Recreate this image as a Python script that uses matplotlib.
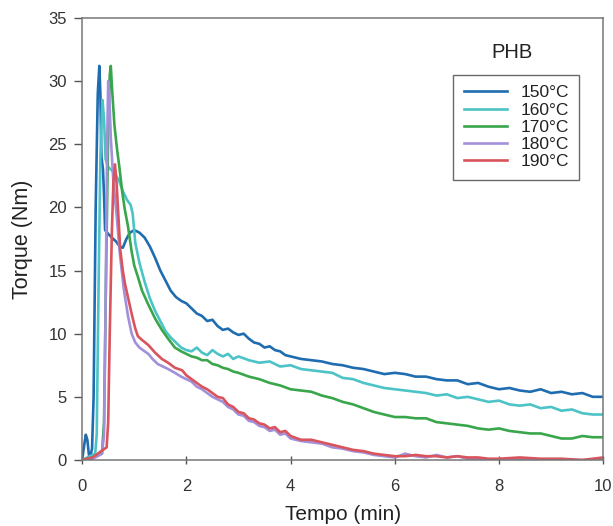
import matplotlib
matplotlib.use("Agg")
import matplotlib.pyplot as plt

plt.rcParams['font.family'] = ['Liberation Sans', 'DejaVu Sans']

labels = ["150°C", "160°C", "170°C", "180°C", "190°C"]
colors = ["#1f6db0", "#4cc3c6", "#3aa64c", "#a390db", "#d9545c"]

x150 = [0, 0.04, 0.07, 0.1, 0.13, 0.16, 0.19, 0.22, 0.26, 0.3, 0.33, 0.35, 0.37, 0.4, 0.42, 0.44, 0.5, 0.57, 0.65, 0.72, 0.78, 0.85, 0.92, 1.0, 1.1, 1.2, 1.3, 1.4, 1.5, 1.6, 1.7, 1.8, 1.9, 2.0, 2.1, 2.2, 2.3, 2.4, 2.5, 2.6, 2.7, 2.8, 2.9, 3.0, 3.1, 3.2, 3.3, 3.4, 3.5, 3.6, 3.7, 3.8, 3.9, 4.0, 4.2, 4.4, 4.6, 4.8, 5.0, 5.2, 5.4, 5.6, 5.8, 6.0, 6.2, 6.4, 6.6, 6.8, 7.0, 7.2, 7.4, 7.6, 7.8, 8.0, 8.2, 8.4, 8.6, 8.8, 9.0, 9.2, 9.4, 9.6, 9.8, 10.0]
y150 = [0, 1.2, 2.0, 1.6, 0.4, 0.3, 0.9, 5, 20, 29, 31.2, 29, 24, 23, 21, 18.2, 17.9, 17.6, 17.3, 16.9, 16.8, 17.5, 18.0, 18.2, 18.0, 17.6, 16.9, 16.0, 15.0, 14.2, 13.4, 12.9, 12.6, 12.4, 12.0, 11.6, 11.4, 11.0, 11.1, 10.6, 10.3, 10.4, 10.1, 9.9, 10.0, 9.6, 9.3, 9.2, 8.9, 9.0, 8.7, 8.6, 8.3, 8.2, 8.0, 7.9, 7.8, 7.6, 7.5, 7.3, 7.2, 7.0, 6.8, 6.9, 6.8, 6.6, 6.6, 6.4, 6.3, 6.3, 6.0, 6.1, 5.8, 5.6, 5.7, 5.5, 5.4, 5.6, 5.3, 5.4, 5.2, 5.3, 5.0, 5.0]

x160 = [0, 0.1, 0.2, 0.25, 0.28, 0.31, 0.35, 0.39, 0.42, 0.45, 0.5, 0.6, 0.7, 0.78, 0.86, 0.93, 0.97, 1.02, 1.1, 1.2, 1.3, 1.4, 1.5, 1.6, 1.7, 1.8, 1.9, 2.0, 2.1, 2.2, 2.3, 2.4, 2.5, 2.6, 2.7, 2.8, 2.9, 3.0, 3.2, 3.4, 3.6, 3.8, 4.0, 4.2, 4.4, 4.6, 4.8, 5.0, 5.2, 5.4, 5.6, 5.8, 6.0, 6.2, 6.4, 6.6, 6.8, 7.0, 7.2, 7.4, 7.6, 7.8, 8.0, 8.2, 8.4, 8.6, 8.8, 9.0, 9.2, 9.4, 9.6, 9.8, 10.0]
y160 = [0, 0.2, 0.4, 0.5, 2, 12, 24, 28.5, 27, 23.8, 23.2, 22.8, 22.2, 21.3, 20.6, 20.2, 19.5, 17.2, 15.6, 14.1, 12.8, 11.8, 11.0, 10.2, 9.7, 9.3, 8.9, 8.7, 8.6, 8.9, 8.5, 8.3, 8.7, 8.4, 8.2, 8.4, 8.0, 8.2, 7.9, 7.7, 7.8, 7.4, 7.5, 7.2, 7.1, 7.0, 6.9, 6.5, 6.4, 6.1, 5.9, 5.7, 5.6, 5.5, 5.4, 5.3, 5.1, 5.2, 4.9, 5.0, 4.8, 4.6, 4.7, 4.4, 4.3, 4.4, 4.1, 4.2, 3.9, 4.0, 3.7, 3.6, 3.6]

x170 = [0, 0.1, 0.2, 0.3, 0.38, 0.42, 0.46, 0.5, 0.53, 0.55, 0.58, 0.62, 0.67, 0.72, 0.77, 0.82, 0.88, 0.95, 1.0, 1.07, 1.15, 1.27, 1.4, 1.53, 1.65, 1.78, 1.9, 2.0, 2.1, 2.2, 2.3, 2.4, 2.5, 2.6, 2.7, 2.8, 2.9, 3.0, 3.2, 3.4, 3.6, 3.8, 4.0, 4.2, 4.4, 4.6, 4.8, 5.0, 5.2, 5.4, 5.6, 5.8, 6.0, 6.2, 6.4, 6.6, 6.8, 7.0, 7.2, 7.4, 7.6, 7.8, 8.0, 8.2, 8.4, 8.6, 8.8, 9.0, 9.2, 9.4, 9.6, 9.8, 10.0]
y170 = [0, 0.1, 0.2, 0.4, 0.5, 3, 15, 26, 30.5, 31.2, 29, 26.5, 24.6, 23, 21.2, 19.8, 18.5, 16.5, 15.4, 14.5, 13.4, 12.3, 11.2, 10.3, 9.6, 8.9, 8.6, 8.4, 8.2, 8.1, 7.9, 7.9, 7.6, 7.5, 7.3, 7.2, 7.0, 6.9, 6.6, 6.4, 6.1, 5.9, 5.6, 5.5, 5.4, 5.1, 4.9, 4.6, 4.4, 4.1, 3.8, 3.6, 3.4, 3.4, 3.3, 3.3, 3.0, 2.9, 2.8, 2.7, 2.5, 2.4, 2.5, 2.3, 2.2, 2.1, 2.1, 1.9, 1.7, 1.7, 1.9, 1.8, 1.8]

x180 = [0, 0.1, 0.2, 0.3, 0.38, 0.42, 0.45, 0.48, 0.5, 0.52, 0.55, 0.6, 0.66, 0.72, 0.8, 0.88, 0.95, 1.02, 1.1, 1.2, 1.27, 1.35, 1.45, 1.55, 1.65, 1.78, 1.9, 2.0, 2.1, 2.2, 2.3, 2.4, 2.5, 2.6, 2.7, 2.8, 2.9, 3.0, 3.1, 3.2, 3.3, 3.4, 3.5, 3.6, 3.7, 3.8, 3.9, 4.0, 4.2, 4.4, 4.6, 4.8, 5.0, 5.2, 5.4, 5.6, 5.8, 6.0, 6.2, 6.4, 6.6, 6.8, 7.0, 7.2, 7.4, 7.6, 8.0, 8.5, 9.0, 9.5, 10.0]
y180 = [0, 0.0, 0.1, 0.3, 0.5, 2, 12, 25, 30.0, 29, 25.5, 22, 19.5, 16.5, 13.5, 11.4, 10.0, 9.3, 8.9, 8.6, 8.4, 8.0, 7.6, 7.4, 7.2, 6.9, 6.6, 6.4, 6.2, 5.8, 5.6, 5.3, 5.0, 4.8, 4.6, 4.2, 4.0, 3.6, 3.5, 3.1, 3.0, 2.7, 2.6, 2.3, 2.4, 2.0, 2.1, 1.7, 1.5, 1.4, 1.3, 1.0, 0.9, 0.7, 0.6, 0.4, 0.3, 0.2, 0.5, 0.3, 0.2, 0.4, 0.2, 0.3, 0.1, 0.1, 0.0, 0.1, 0.0, 0.0, 0.0]

x190 = [0, 0.1, 0.2, 0.3, 0.4, 0.47, 0.5, 0.53, 0.57, 0.6, 0.63, 0.66, 0.7, 0.73, 0.78, 0.82, 0.9, 0.96, 1.02, 1.07, 1.15, 1.27, 1.4, 1.53, 1.65, 1.78, 1.92, 2.0, 2.1, 2.2, 2.3, 2.4, 2.5, 2.6, 2.7, 2.8, 2.9, 3.0, 3.1, 3.2, 3.3, 3.4, 3.5, 3.6, 3.7, 3.8, 3.9, 4.0, 4.2, 4.4, 4.6, 4.8, 5.0, 5.2, 5.4, 5.6, 5.8, 6.0, 6.2, 6.4, 6.6, 6.8, 7.0, 7.2, 7.4, 7.6, 7.8, 8.0, 8.4, 8.8, 9.2, 9.6, 10.0]
y190 = [0, 0.1, 0.2, 0.5, 0.8, 1.0, 3, 10, 18, 22, 23.4, 22, 19, 16.7, 15.0, 14.0, 12.5, 11.4, 10.4, 9.8, 9.5, 9.1, 8.5, 8.0, 7.7, 7.3, 7.1, 6.7, 6.4, 6.1, 5.8, 5.6, 5.3, 5.0, 4.9, 4.4, 4.2, 3.8, 3.7, 3.3, 3.2, 2.9, 2.8, 2.5, 2.6, 2.2, 2.3, 1.9, 1.6, 1.6, 1.4, 1.2, 1.0, 0.8, 0.7, 0.5, 0.4, 0.3, 0.3, 0.4, 0.3, 0.3, 0.2, 0.3, 0.2, 0.2, 0.1, 0.1, 0.2, 0.1, 0.1, 0.0, 0.2]

series_x = [x150, x160, x170, x180, x190]
series_y = [y150, y160, y170, y180, y190]

x_ticks = [0, 2, 4, 6, 8, 10]
y_ticks = [0, 5, 10, 15, 20, 25, 30, 35]

fig = plt.figure(figsize=(6.13, 5.26), dpi=100)
ax = fig.add_axes([0.134, 0.1255, 0.850, 0.8405])

for xs, ys, c, lab in zip(series_x, series_y, colors, labels):
    ax.plot(xs, ys, color=c, lw=1.9, label=lab, solid_joinstyle='round')

ax.set_xlim(0, 10)
ax.set_ylim(0, 35)
ax.set_xticks(x_ticks)
ax.set_yticks(y_ticks)
ax.tick_params(axis='x', direction='inout', length=6, width=1, colors='#555555',
               labelcolor='#333333', labelsize=12, pad=11)
ax.tick_params(axis='y', direction='out', length=6, width=1, colors='#555555',
               labelcolor='#333333', labelsize=12, pad=5)
for s in ax.spines.values():
    s.set_color('#777777')
    s.set_linewidth(1.1)

ax.set_xlabel("Tempo (min)", fontsize=15, color='#222222')
ax.set_ylabel("Torque (Nm)", fontsize=15.5, color='#222222')
ax.xaxis.set_label_coords(0.5, -0.102)
ax.yaxis.set_label_coords(-0.094, 0.5)

ax.text(0.825, 0.921, "PHB", transform=ax.transAxes, ha='center', va='center',
        fontsize=14.5, color='#222222')
leg = ax.legend(loc='upper right', bbox_to_anchor=(0.954, 0.871), borderaxespad=0,
                fancybox=False, frameon=True, fontsize=12.5, handlelength=2.5,
                handletextpad=0.75, labelspacing=0.12, borderpad=0.6)
leg.get_frame().set_edgecolor('#444444')
leg.get_frame().set_linewidth(1.0)
for t in leg.get_texts():
    t.set_color('#222222')

fig.savefig("out.png", dpi=100)
